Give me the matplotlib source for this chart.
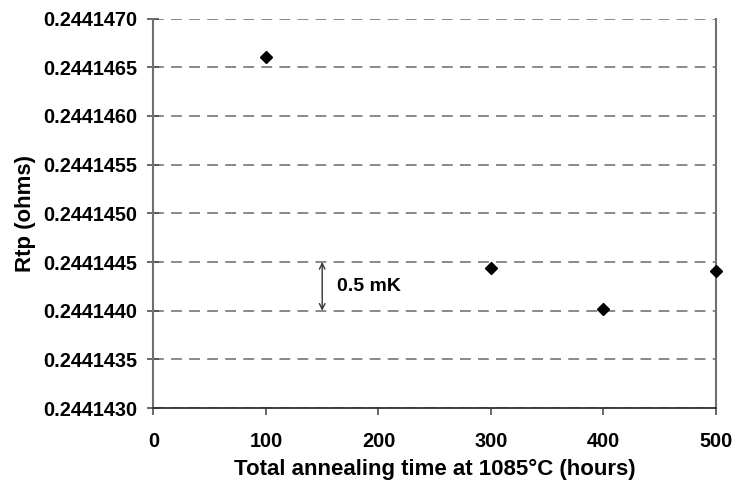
import matplotlib.pyplot as plt
from matplotlib.ticker import MultipleLocator, FormatStrFormatter

plt.rcParams['font.family'] = ['Liberation Sans', 'DejaVu Sans']
plt.rcParams['font.weight'] = 'bold'

# annealing time (h) vs triple-point resistance (ohms)
hours = [100, 300, 400, 500]
rtp = [0.2441466, 0.24414444, 0.24414402, 0.24414441]

fig = plt.figure(figsize=(7.34, 4.87), dpi=100)
ax = fig.add_axes([0.209, 0.162, 0.7665, 0.800])

ax.plot(hours, rtp, linestyle='none', marker='D', markersize=6.5,
        color='black', clip_on=False, zorder=5)

ax.set_xlim(0, 500)
ax.set_ylim(0.2441430, 0.2441470)
ax.xaxis.set_major_locator(MultipleLocator(100))
ax.yaxis.set_major_locator(MultipleLocator(0.0000005))
ax.yaxis.set_major_formatter(FormatStrFormatter('%.7f'))

ax.grid(axis='y', color='#808080', linestyle=(0, (6, 4)), linewidth=1.3)
ax.set_axisbelow(True)

for side in ['left', 'right']:
    ax.spines[side].set_color('#707070')
    ax.spines[side].set_linewidth(1.5)
ax.spines['bottom'].set_color('#303030')
ax.spines['bottom'].set_linewidth(1.3)
ax.spines['top'].set_visible(False)

ax.tick_params(axis='y', direction='inout', length=8, width=1.2,
               color='#505050', labelsize=14.3, pad=7.5)
ax.tick_params(axis='x', direction='out', length=5, width=1.2,
               color='#505050', labelsize=14.3, pad=12)
for lbl in ax.get_xticklabels() + ax.get_yticklabels():
    lbl.set_fontweight('bold')

ax.set_xlabel('Total annealing time at 1085°C (hours)', fontsize=16,
              fontweight='bold', labelpad=6)
ax.set_ylabel('Rtp (ohms)', fontsize=16, fontweight='bold', labelpad=5)

# 0.5 mK scale bar
ax.annotate('', xy=(150, 0.2441440), xytext=(150, 0.2441445),
            arrowprops=dict(arrowstyle='<->', color='#333333', lw=1.0,
                            shrinkA=0, shrinkB=0))
ax.text(163, 0.24414425, '0.5 mK', fontsize=14, fontweight='bold',
        ha='left', va='center')

fig.savefig('out.png', dpi=100)
